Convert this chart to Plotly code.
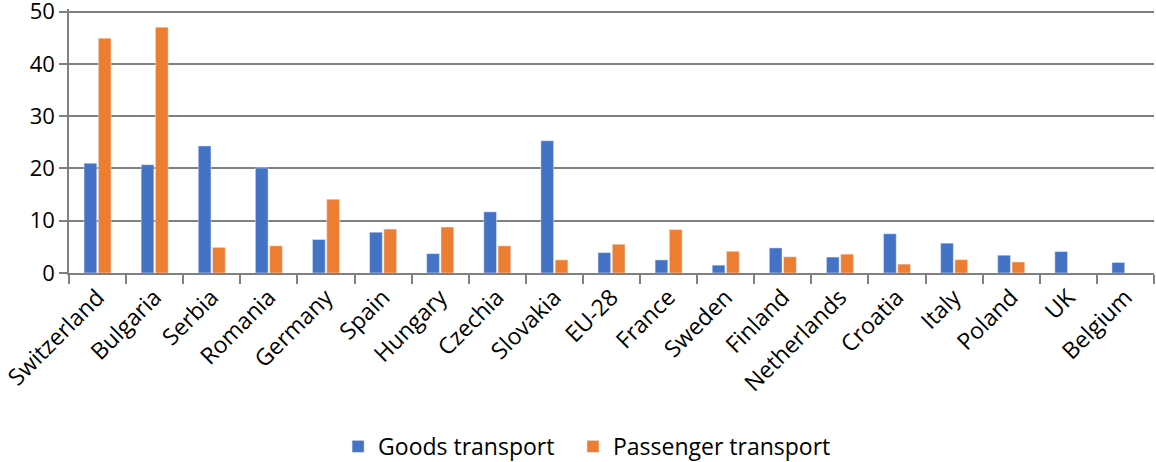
import plotly.graph_objects as go

countries = ["Switzerland", "Bulgaria", "Serbia", "Romania", "Germany", "Spain", "Hungary",
             "Czechia", "Slovakia", "EU-28", "France", "Sweden", "Finland", "Netherlands",
             "Croatia", "Italy", "Poland", "UK", "Belgium"]
goods = [21.0, 20.7, 24.3, 20.1, 6.4, 7.8, 3.7, 11.7, 25.3, 3.9, 2.5, 1.5, 4.8, 3.05, 7.5, 5.7, 3.4, 4.1, 2.0]
passenger = [44.9, 47.0, 4.9, 5.2, 14.1, 8.4, 8.8, 5.2, 2.5, 5.5, 8.3, 4.15, 3.1, 3.6, 1.7, 2.55, 2.1, None, None]
y_ticks = [0, 10, 20, 30, 40, 50]

FONT = "'Open Sans', 'Noto Sans', sans-serif"

fig = go.Figure()
fig.add_trace(go.Bar(x=countries, y=goods, name="Goods transport", marker_color="#4472C4",
                     legend="legend"))
fig.add_trace(go.Bar(x=countries, y=passenger, name="Passenger transport", marker_color="#ED7D31",
                     legend="legend2"))

leg_common = dict(orientation="h", xanchor="left", y=-0.657, yanchor="middle",
                  font=dict(size=23), itemwidth=30, bgcolor="rgba(0,0,0,0)")
fig.update_layout(
    width=1156, height=462,
    margin=dict(l=69, r=2, t=9.4, b=189, autoexpand=False),
    paper_bgcolor="white", plot_bgcolor="white",
    barmode="group", bargap=0.5, bargroupgap=0.11,
    font=dict(family=FONT, size=22, color="#000000"),
    showlegend=True,
    legend=dict(x=0.248, **leg_common),
    legend2=dict(x=0.4645, **leg_common),
)
fig.update_xaxes(
    type="category", tickangle=-45, tickson="boundaries", ticks="outside", ticklen=9,
    tickcolor="#808080", tickwidth=1.5, showline=True, linecolor="#808080", linewidth=1.5,
    tickfont=dict(size=23), showgrid=False, automargin=False, ticklabeloverflow="allow",
)
fig.update_yaxes(
    range=[0, 50.5], tickmode="array", tickvals=y_ticks, ticks="outside", ticklen=8,
    tickcolor="#808080", tickwidth=1.5,
    showline=True, linecolor="#808080", linewidth=1.5, showgrid=True, gridcolor="#808080",
    gridwidth=1.5, zeroline=False, tickfont=dict(size=22), automargin=False,
    ticklabeloverflow="allow",
)

fig.write_html("out.html", config={"displayModeBar": False},
               post_script="document.body.style.margin='0';")
